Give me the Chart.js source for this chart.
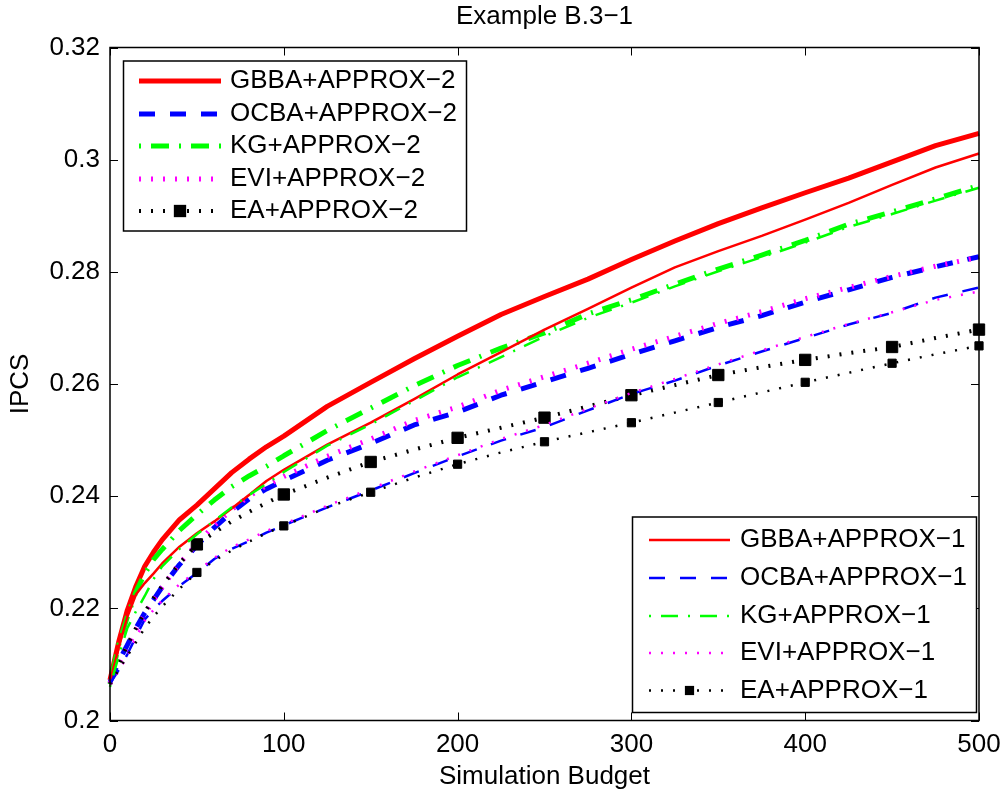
<!DOCTYPE html>
<html lang="en">
<head>
<meta charset="UTF-8">
<title>Example B.3-1</title>
<script src="https://cdn.jsdelivr.net/npm/chart.js"></script>
<style>
    body { margin: 0; background: #fff; }
    #wrap { width: 1006px; height: 795px; position: relative; }
</style>
</head>
<body>
<div id="wrap"><canvas id="myChart"></canvas></div>
<script>
// simulation budget (x) shared by every curve
var budget = [0, 5, 10, 15, 20, 25, 30, 40, 50, 60, 70, 80, 90, 100, 125, 150, 175, 200, 225, 250, 275, 300, 325, 350, 375, 400, 425, 450, 475, 500];

// APPROX-2 curves
var gbba2 = [.2072, .2140, .2197, .2240, .2275, .2300, .2322, .2358, .2384, .2413, .2442, .2466, .2488, .2507, .2560, .2603, .2645, .2685, .2724, .2756, .2787, .2822, .2855, .2886, .2914, .2941, .2967, .2996, .3025, .3047];
var ocba2 = [.2068, .2105, .2135, .2165, .2192, .2215, .2238, .2278, .2312, .2344, .2371, .2395, .2413, .2428, .2464, .2494, .2527, .2550, .2580, .2604, .2628, .2653, .2677, .2701, .2722, .2746, .2768, .2790, .2809, .2827];
var kg2   = [.2065, .2135, .2185, .2230, .2262, .2287, .2305, .2339, .2367, .2393, .2417, .2436, .2453, .2472, .2517, .2557, .2597, .2633, .2664, .2691, .2725, .2750, .2778, .2805, .2830, .2856, .2885, .2907, .2930, .2954];
var evi2  = [.2066, .2100, .2130, .2162, .2190, .2214, .2238, .2280, .2315, .2348, .2376, .2400, .2419, .2435, .2471, .2502, .2535, .2559, .2589, .2613, .2637, .2662, .2685, .2708, .2729, .2752, .2772, .2792, .2810, .2826];
var ea2   = [.2065, .2100, .2135, .2165, .2193, .2218, .2240, .2280, .2314, .2335, .2355, .2372, .2388, .2403, .2433, .2461, .2483, .2504, .2522, .2540, .2560, .2580, .2598, .2616, .2630, .2643, .2655, .2666, .2682, .2697];

// APPROX-1 curves
var gbba1 = [.2070, .2130, .2185, .2225, .2245, .2262, .2280, .2310, .2334, .2355, .2378, .2402, .2427, .2447, .2492, .2531, .2573, .2617, .2657, .2697, .2734, .2772, .2808, .2837, .2864, .2893, .2923, .2955, .2986, .3011];
var ocba1 = [.2066, .2090, .2118, .2150, .2180, .2198, .2213, .2240, .2263, .2288, .2306, .2320, .2335, .2348, .2380, .2410, .2441, .2471, .2499, .2523, .2553, .2582, .2606, .2633, .2658, .2682, .2706, .2727, .2754, .2772];
var kg1   = [.2060, .2115, .2165, .2195, .2222, .2252, .2275, .2306, .2332, .2356, .2380, .2402, .2422, .2443, .2490, .2528, .2570, .2612, .2648, .2685, .2718, .2745, .2774, .2801, .2826, .2852, .2880, .2903, .2927, .2950];
var evi1  = [.2064, .2088, .2115, .2148, .2178, .2197, .2214, .2243, .2266, .2290, .2309, .2323, .2338, .2350, .2383, .2413, .2444, .2473, .2502, .2527, .2556, .2584, .2609, .2635, .2660, .2684, .2707, .2728, .2750, .2765];
var ea1   = [.2065, .2090, .2115, .2140, .2165, .2185, .2203, .2235, .2264, .2285, .2303, .2319, .2334, .2347, .2380, .2407, .2433, .2457, .2478, .2497, .2514, .2531, .2549, .2567, .2585, .2603, .2620, .2637, .2653, .2668];

var xTicks = [0, 100, 200, 300, 400, 500];
var yTicks = [0.2, 0.22, 0.24, 0.26, 0.28, 0.3, 0.32];

var FONT = "'Liberation Sans', Arial, Helvetica, sans-serif";
Chart.defaults.font.family = FONT;
Chart.defaults.color = '#000';

function series(label, values, color, width, dash, marker) {
    return {
        label: label,
        data: budget.map(function (b, i) { return { x: b, y: values[i] }; }),
        borderColor: color,
        backgroundColor: color,
        borderWidth: width,
        borderDash: dash,
        borderCapStyle: 'butt',
        borderJoinStyle: 'round',
        pointStyle: 'rect',
        marker: marker || 0,
        pointRadius: marker ? function (c) { return c.raw.x > 0 && c.raw.x % 50 === 0 ? marker : 0; } : 0,
        pointHoverRadius: 0,
        pointBorderWidth: 1,
        tension: 0,
        fill: false,
        clip: false
    };
}

var datasets = [
    series('GBBA+APPROX\u22122', gbba2, '#ff0000', 5, []),
    series('OCBA+APPROX\u22122', ocba2, '#0000ff', 5, [16, 15]),
    series('KG+APPROX\u22122', kg2, '#00ff00', 5, [2, 10, 18, 10]),
    series('EVI+APPROX\u22122', evi2, '#ff00ff', 5, [2, 10]),
    series('EA+APPROX\u22122', ea2, '#000000', 4, [2, 10], 8),
    series('GBBA+APPROX\u22121', gbba1, '#ff0000', 2.5, []),
    series('OCBA+APPROX\u22121', ocba1, '#0000ff', 2.5, [16, 15]),
    series('KG+APPROX\u22121', kg1, '#00ff00', 2.5, [2, 10, 17, 10]),
    series('EVI+APPROX\u22121', evi1, '#ff00ff', 2.5, [2, 10]),
    series('EA+APPROX\u22121', ea1, '#000000', 2.5, [2, 10], 5.8)
];
// later curves drawn on top, like the plot order in the original
datasets.forEach(function (d, i) { d.order = datasets.length - i; });

var legendBoxes = [
    { ids: [0, 1, 2, 3, 4], x: 123.5, y: 61, w: 343, h: 170, sx1: 139, sx2: 221, tx: 230, rows: [81, 114, 146, 179, 211] },
    { ids: [5, 6, 7, 8, 9], x: 632.5, y: 517, w: 344, h: 195.5, sx1: 649, sx2: 730, tx: 740, rows: [540, 578, 616, 653, 690.5] }
];

var matlabLook = {
    id: 'matlabLook',
    afterDatasetsDraw: function (chart) {
        var ctx = chart.ctx, a = chart.chartArea, xs = chart.scales.x, ys = chart.scales.y;
        ctx.save();
        ctx.strokeStyle = '#000';
        ctx.setLineDash([]);
        ctx.lineWidth = 1.5;
        ctx.strokeRect(a.left, a.top, a.right - a.left, a.bottom - a.top);
        ctx.lineWidth = 1;
        ctx.beginPath();
        xTicks.forEach(function (v) {
            var px = Math.round(xs.getPixelForValue(v)) + 0.5;
            ctx.moveTo(px, a.bottom); ctx.lineTo(px, a.bottom - 8);
            ctx.moveTo(px, a.top); ctx.lineTo(px, a.top + 8);
        });
        yTicks.forEach(function (v) {
            var py = Math.round(ys.getPixelForValue(v)) + 0.5;
            ctx.moveTo(a.left, py); ctx.lineTo(a.left + 8, py);
            ctx.moveTo(a.right, py); ctx.lineTo(a.right - 8, py);
        });
        ctx.stroke();
        ctx.restore();
    },
    afterDraw: function (chart) {
        var ctx = chart.ctx, a = chart.chartArea;
        ctx.save();
        ctx.fillStyle = '#000';
        ctx.font = '26px ' + FONT;
        ctx.textAlign = 'center';
        ctx.textBaseline = 'middle';
        ctx.fillText('Example B.3\u22121', (a.left + a.right) / 2, 17);

        legendBoxes.forEach(function (b) {
            ctx.setLineDash([]);
            ctx.fillStyle = '#fff';
            ctx.fillRect(b.x, b.y, b.w, b.h);
            ctx.strokeStyle = '#000';
            ctx.lineWidth = 1.5;
            ctx.strokeRect(b.x, b.y, b.w, b.h);
            b.ids.forEach(function (id, k) {
                var ds = chart.data.datasets[id], y = b.rows[k];
                ctx.setLineDash(ds.borderDash);
                ctx.lineCap = 'butt';
                ctx.lineWidth = ds.borderWidth;
                ctx.strokeStyle = ds.borderColor;
                ctx.beginPath();
                ctx.moveTo(b.sx1, y);
                ctx.lineTo(b.sx2, y);
                ctx.stroke();
                if (ds.marker) {
                    var s = ds.marker * Math.SQRT2 + 1;
                    ctx.fillStyle = '#000';
                    ctx.fillRect((b.sx1 + b.sx2) / 2 - s / 2, y - s / 2, s, s);
                }
                ctx.fillStyle = '#000';
                ctx.font = '26px ' + FONT;
                ctx.textAlign = 'left';
                ctx.textBaseline = 'middle';
                ctx.fillText(ds.label, b.tx, y);
            });
        });
        ctx.restore();
    }
};

var config = {
    type: 'line',
    data: { datasets: datasets },
    options: {
        responsive: true,
        maintainAspectRatio: false,
        animation: false,
        events: [],
        layout: { padding: { top: 47.5, right: 27, bottom: 0, left: 0 } },
        plugins: { legend: { display: false }, tooltip: { enabled: false }, title: { display: false } },
        scales: {
            x: {
                type: 'linear', min: 0, max: 500,
                afterBuildTicks: function (s) { s.ticks = xTicks.map(function (v) { return { value: v }; }); },
                afterFit: function (s) { s.height = 74.5; s.paddingLeft = 0; s.paddingRight = 0; },
                grid: { display: false, drawTicks: false },
                border: { display: false },
                ticks: { font: { size: 26 }, padding: 9, maxRotation: 0, autoSkip: false },
                title: { display: true, text: 'Simulation Budget', font: { size: 26 }, padding: { top: 0, bottom: 3 } }
            },
            y: {
                type: 'linear', min: 0.2, max: 0.32,
                afterBuildTicks: function (s) { s.ticks = yTicks.map(function (v) { return { value: v }; }); },
                afterFit: function (s) { s.width = 110; s.paddingTop = 0; s.paddingBottom = 0; },
                grid: { display: false, drawTicks: false },
                border: { display: false },
                ticks: { font: { size: 26 }, padding: 10, callback: function (v) { return String(+v.toFixed(2)); } },
                title: { display: true, text: 'IPCS', font: { size: 26 }, padding: { top: 5, bottom: 0 } }
            }
        }
    },
    plugins: [matlabLook]
};

window.onload = function () {
    var ctx = document.getElementById('myChart').getContext('2d');
    window.myChart = new Chart(ctx, config);
};
</script>
</body>
</html>
